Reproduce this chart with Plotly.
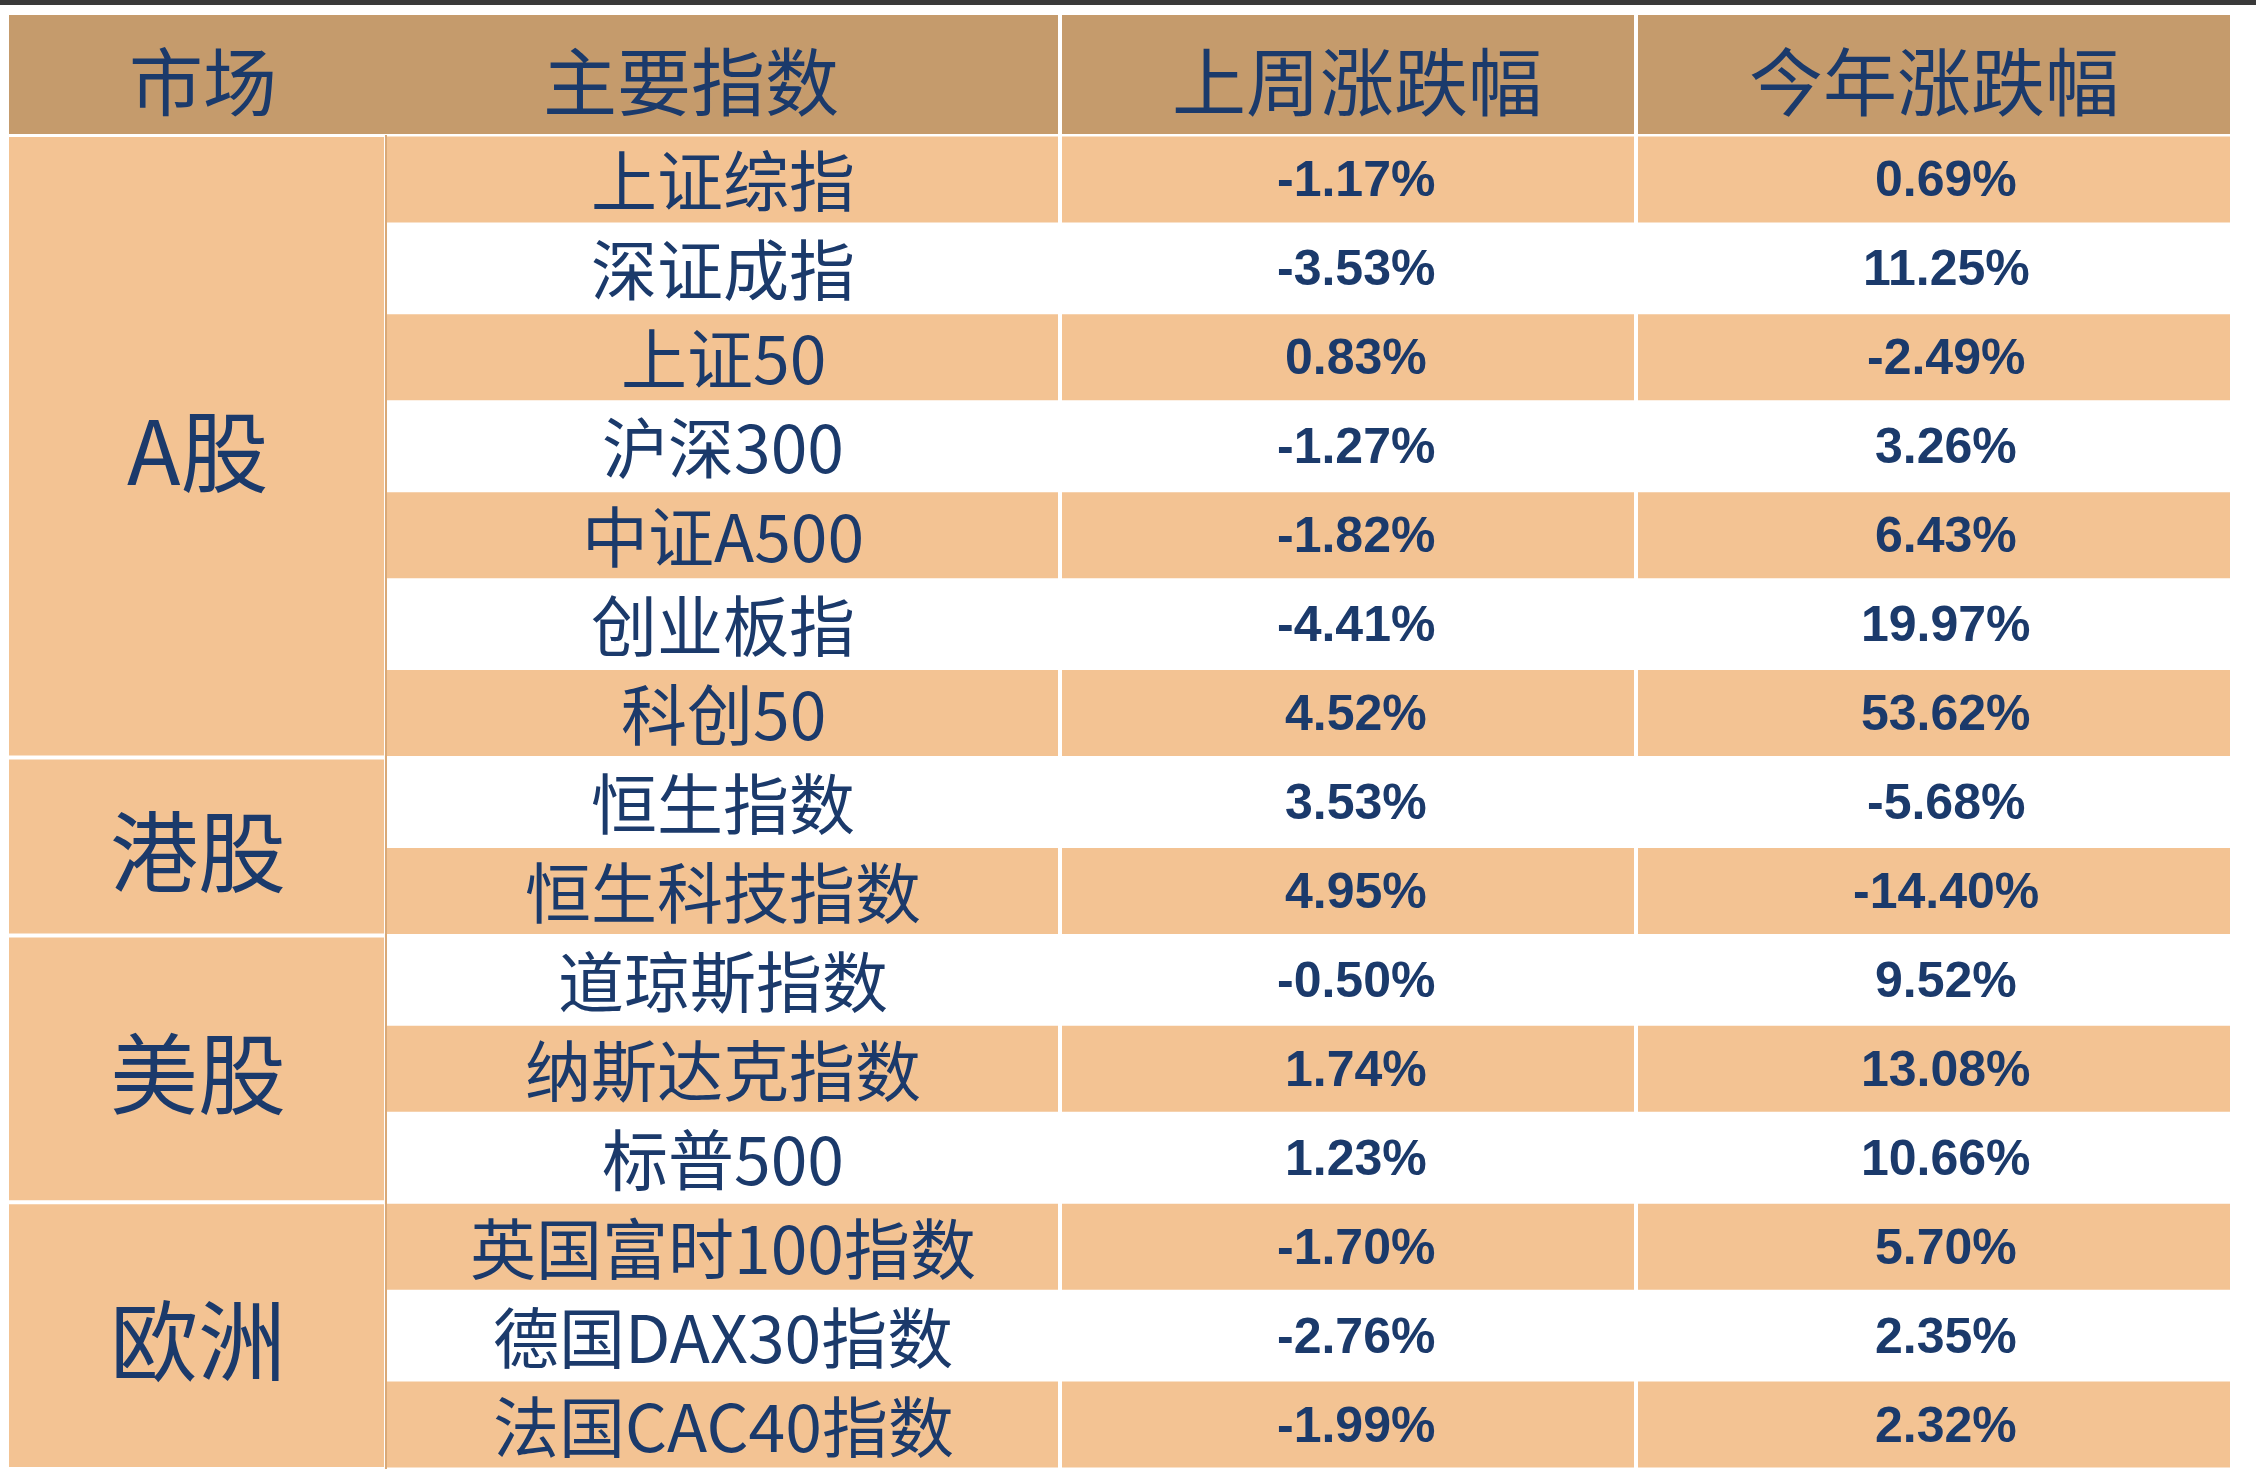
import plotly.graph_objects as go

headers = ["市场", "主要指数", "上周涨跌幅", "今年涨跌幅"]
markets = ["A股", "港股", "美股", "欧洲"]
market_rows = [7, 2, 3, 3]
indices = ["上证综指", "深证成指", "上证50", "沪深300", "中证A500", "创业板指", "科创50",
           "恒生指数", "恒生科技指数", "道琼斯指数", "纳斯达克指数", "标普500",
           "英国富时100指数", "德国DAX30指数", "法国CAC40指数"]
week_chg = [-1.17, -3.53, 0.83, -1.27, -1.82, -4.41, 4.52, 3.53, 4.95, -0.50, 1.74, 1.23, -1.70, -2.76, -1.99]
ytd_chg = [0.69, 11.25, -2.49, 3.26, 6.43, 19.97, 53.62, -5.68, -14.40, 9.52, 13.08, 10.66, 5.70, 2.35, 2.32]

# layout in pixel units of the canvas
W, H = 2256, 1476
col_edges = [9, 386, 1060, 1636, 2230]
head_top, head_bot = 15, 135
row_h = (1469 - head_bot) / len(indices)

HEAD_C = "#C59B6C"
ROW_C = "#F3C393"
TXT_C = "#1B3A6B"
CJK = "Noto Sans CJK SC"
NUM = "Liberation Sans, Arial"

fig = go.Figure()
shapes = []
ann = []

def rect(x0, y0, x1, y1, color):
    shapes.append(dict(type="rect", xref="x", yref="y", x0=x0, x1=x1, y0=y0, y1=y1,
                       fillcolor=color, line=dict(width=0), layer="below"))

# dark bar at the very top
rect(0, 0, W, 5, "#3A3A3A")

# header
rect(col_edges[0], head_top, col_edges[-1], head_bot - 1, HEAD_C)
head_x = [203, 691, 1357, 1934]
for i, h in enumerate(headers):
    ann.append(dict(x=head_x[i], y=(head_top + head_bot) / 2 + 2, text=h, showarrow=False,
                    font=dict(family=CJK, size=74, color=TXT_C), xanchor="center", yanchor="middle"))

# body rows
for i, name in enumerate(indices):
    y0 = head_bot + i * row_h
    y1 = y0 + row_h
    if i % 2 == 0:
        rect(col_edges[1], y0 + 1.5, col_edges[-1], y1 - 1.5, ROW_C)
    yc = (y0 + y1) / 2
    ann.append(dict(x=(col_edges[1] + col_edges[2]) / 2, y=yc - 2, text=name, showarrow=False,
                    font=dict(family=CJK, size=66, color=TXT_C)))
    ann.append(dict(x=(col_edges[2] + col_edges[3]) / 2 + 8, y=yc, text=f"<b>{week_chg[i]:.2f}%</b>",
                    showarrow=False, font=dict(family=NUM, size=50, color=TXT_C)))
    ann.append(dict(x=(col_edges[3] + col_edges[4]) / 2 + 13, y=yc, text=f"<b>{ytd_chg[i]:.2f}%</b>",
                    showarrow=False, font=dict(family=NUM, size=50, color=TXT_C)))

# white column separators through header and orange rows
for xe in col_edges[2:4]:
    shapes.append(dict(type="line", xref="x", yref="y", x0=xe, x1=xe, y0=head_top, y1=head_bot + len(indices) * row_h,
                       line=dict(color="white", width=4)))

# market column (merged cells)
start = 0
for m, n in zip(markets, market_rows):
    y0 = head_bot + start * row_h
    y1 = head_bot + (start + n) * row_h
    rect(col_edges[0], y0 + 2, col_edges[1] - 2, y1 - 2, ROW_C)
    ann.append(dict(x=(col_edges[0] + col_edges[1]) / 2, y=(y0 + y1) / 2, text=m, showarrow=False,
                    font=dict(family=CJK, size=88, color=TXT_C)))
    start += n

shapes.append(dict(type="line", xref="x", yref="y", x0=col_edges[1], x1=col_edges[1],
                   y0=head_bot, y1=head_bot + len(indices) * row_h,
                   line=dict(color="#D9A978", width=2)))

fig.update_layout(
    shapes=shapes,
    annotations=ann,
    xaxis=dict(range=[0, W], visible=False, fixedrange=True),
    yaxis=dict(range=[H, 0], visible=False, fixedrange=True),
    margin=dict(l=0, r=0, t=0, b=0),
    plot_bgcolor="white",
    paper_bgcolor="white",
    showlegend=False,
)

# drop the default body margin so the figure fills the whole window
fig.write_html("out.html", config={"responsive": True, "displayModeBar": False},
               post_script="document.body.style.margin='0';"
                           "Plotly.Plots.resize(document.getElementById('{plot_id}'));")
